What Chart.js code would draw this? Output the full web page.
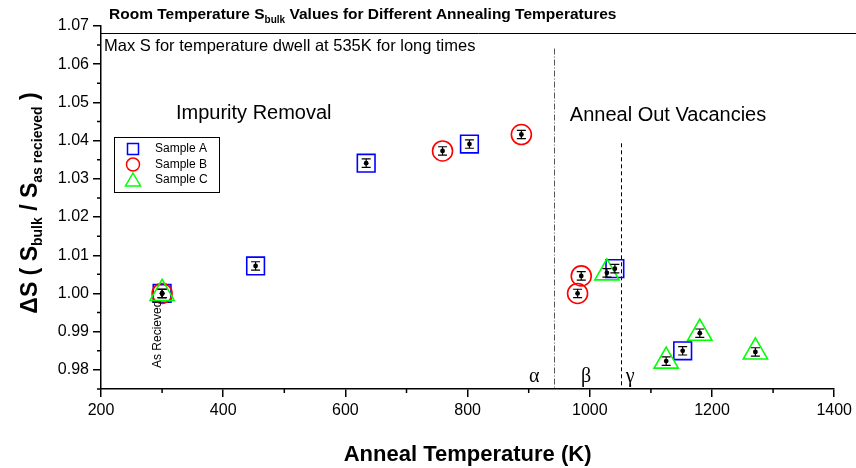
<!DOCTYPE html>
<html>
<head>
<meta charset="utf-8">
<script src="https://cdn.jsdelivr.net/npm/chart.js@4.4.1/dist/chart.umd.min.js"></script>
<style>
  html, body { margin: 0; padding: 0; background: #fff; }
  canvas { display: block; }
</style>
</head>
<body>
<canvas id="annealChart" width="856" height="468"></canvas>
<script>
// anneal temperature (K) and S relative to the as-received value, per sample
const tempA = [300, 453, 634, 803, 1041, 1152];
const sA    = [1.000, 1.0072, 1.0341, 1.0391, 1.0065, 0.9850];
const errA  = [0.0011, 0.0011, 0.0011, 0.0011, 0.0011, 0.0011];

const tempB = [300, 759, 888, 980, 986];
const sB    = [1.000, 1.0373, 1.0416, 1.0000, 1.0046];
const errB  = [0.0011, 0.0011, 0.0011, 0.0011, 0.0011];

const tempC = [300, 1028, 1125, 1180, 1271];
const sC    = [1.000, 1.0054, 0.9823, 0.9896, 0.9847];
const errC  = [0.0011, 0.0011, 0.0011, 0.0011, 0.0011];

const xTicks = [200, 400, 600, 800, 1000, 1200, 1400];
const yTicks = [0.98, 0.99, 1.00, 1.01, 1.02, 1.03, 1.04, 1.05, 1.06, 1.07];
const xMinor = [300, 500, 700, 900, 1100, 1300];
const yMinor = [0.975, 0.985, 0.995, 1.005, 1.015, 1.025, 1.035, 1.045, 1.055, 1.065];

// saturation level and the alpha / beta / gamma region boundaries
const maxS = 1.0682;
const phaseBounds = [942, 1051];
const phaseTops = [1.0641, 1.0393];
const phaseNames = ['α', 'β', 'γ'];
const phaseAt = [909, 994, 1066];

const SANS = 'Arial, "Liberation Sans", sans-serif';

function pts(xs, ys) {
  return xs.map((x, i) => ({ x: x, y: ys[i] }));
}

// draw a run of text pieces, each with its own size and vertical shift
function richText(ctx, parts, x, y, align) {
  let w = 0;
  parts.forEach(p => { ctx.font = p.font; w += ctx.measureText(p.t).width; });
  let cx = align === 'center' ? x - w / 2 : x;
  ctx.textAlign = 'left';
  ctx.textBaseline = 'alphabetic';
  parts.forEach(p => {
    ctx.font = p.font;
    ctx.fillText(p.t, cx, y + (p.dy || 0));
    cx += ctx.measureText(p.t).width;
  });
}

const decorations = {
  id: 'decorations',
  beforeDatasetsDraw(chart) {
    const { ctx, chartArea, scales: { x, y } } = chart;
    ctx.save();
    // max S line runs out past the plot edge
    const py = Math.round(y.getPixelForValue(maxS)) + 0.5;
    ctx.strokeStyle = '#000';
    ctx.lineWidth = 1;
    ctx.beginPath();
    ctx.moveTo(chartArea.left, py);
    ctx.lineTo(chart.width, py);
    ctx.stroke();

    // region boundaries
    const dashes = [[6, 2, 1, 2], [4, 3]];
    const colors = ['#555', '#000'];
    phaseBounds.forEach((b, i) => {
      const px = Math.round(x.getPixelForValue(b)) + 0.5;
      ctx.strokeStyle = colors[i];
      ctx.setLineDash(dashes[i]);
      ctx.beginPath();
      ctx.moveTo(px, y.getPixelForValue(phaseTops[i]));
      ctx.lineTo(px, chartArea.bottom);
      ctx.stroke();
    });
    ctx.restore();
  },
  afterDatasetsDraw(chart) {
    const { ctx, scales: { x, y } } = chart;
    ctx.save();
    ctx.strokeStyle = '#000';
    ctx.fillStyle = '#000';
    ctx.lineWidth = 1.2;
    const bars = (xs, ys, es) => {
      xs.forEach((t, i) => {
        const px = x.getPixelForValue(t);
        const p0 = y.getPixelForValue(ys[i]);
        const pt = y.getPixelForValue(ys[i] + es[i]);
        const pb = y.getPixelForValue(ys[i] - es[i]);
        ctx.beginPath();
        ctx.moveTo(px, pt); ctx.lineTo(px, pb);
        ctx.moveTo(px - 4.5, pt); ctx.lineTo(px + 4.5, pt);
        ctx.moveTo(px - 4.5, pb); ctx.lineTo(px + 4.5, pb);
        ctx.stroke();
        ctx.beginPath();
        ctx.arc(px, p0, 2.4, 0, Math.PI * 2);
        ctx.fill();
      });
    };
    bars(tempA, sA, errA);
    bars(tempB, sB, errB);
    bars(tempC, sC, errC);
    ctx.restore();
  },
  afterDraw(chart) {
    const { ctx, chartArea, scales: { x, y } } = chart;
    ctx.save();
    ctx.fillStyle = '#000';
    ctx.strokeStyle = '#000';

    // minor ticks
    ctx.lineWidth = 1.5;
    ctx.beginPath();
    xMinor.forEach(v => {
      const px = x.getPixelForValue(v);
      ctx.moveTo(px, chartArea.bottom);
      ctx.lineTo(px, chartArea.bottom + 4);
    });
    yMinor.forEach(v => {
      const py = y.getPixelForValue(v);
      ctx.moveTo(chartArea.left - 4, py);
      ctx.lineTo(chartArea.left, py);
    });
    ctx.stroke();

    // title
    richText(ctx, [
      { t: 'Room Temperature S', font: 'bold 15.5px ' + SANS },
      { t: 'bulk', font: 'bold 10px ' + SANS, dy: 4 },
      { t: ' Values for Different Annealing Temperatures', font: 'bold 15.5px ' + SANS }
    ], 109, 19, 'left');

    // x axis title
    richText(ctx, [{ t: 'Anneal Temperature (K)', font: 'bold 22px ' + SANS }],
      (chartArea.left + chartArea.right) / 2, 461, 'center');

    // y axis title
    ctx.save();
    ctx.translate(37, 203);
    ctx.rotate(-Math.PI / 2);
    richText(ctx, [
      { t: 'ΔS ( S', font: 'bold 23px ' + SANS },
      { t: 'bulk', font: 'bold 14px ' + SANS, dy: 5 },
      { t: ' / S', font: 'bold 23px ' + SANS },
      { t: 'as recieved', font: 'bold 14px ' + SANS, dy: 5 },
      { t: ' )', font: 'bold 23px ' + SANS }
    ], 0, 0, 'center');
    ctx.restore();

    // notes inside the plot
    ctx.textBaseline = 'middle';
    ctx.textAlign = 'left';
    ctx.font = '16.5px ' + SANS;
    ctx.fillText('Max S for temperature dwell at 535K for long times', chartArea.left + 3, y.getPixelForValue(1.0647));
    ctx.textAlign = 'center';
    ctx.font = '20px ' + SANS;
    ctx.fillText('Impurity Removal', x.getPixelForValue(450), y.getPixelForValue(1.0472));
    ctx.fillText('Anneal Out Vacancies', x.getPixelForValue(1128), y.getPixelForValue(1.0467));

    ctx.font = '20px "Liberation Serif", "Times New Roman", serif';
    ctx.textBaseline = 'alphabetic';
    phaseNames.forEach((n, i) => {
      ctx.fillText(n, x.getPixelForValue(phaseAt[i]), chartArea.bottom - 7);
    });

    ctx.save();
    ctx.translate(x.getPixelForValue(293), y.getPixelForValue(0.9805));
    ctx.rotate(-Math.PI / 2);
    ctx.font = '12px ' + SANS;
    ctx.textAlign = 'left';
    ctx.textBaseline = 'middle';
    ctx.fillText('As Recieved', 0, 0);
    ctx.restore();

    // legend box
    const lx = chartArea.left + 13, ly = 137;
    ctx.lineWidth = 1;
    ctx.strokeRect(lx + 0.5, ly + 0.5, 105, 55);
    const rows = [
      { name: 'Sample A', color: '#0000ff', shape: 'rect' },
      { name: 'Sample B', color: '#ff0000', shape: 'circle' },
      { name: 'Sample C', color: '#00ff00', shape: 'triangle' }
    ];
    ctx.font = '12px ' + SANS;
    ctx.textAlign = 'left';
    ctx.textBaseline = 'middle';
    rows.forEach((r, i) => {
      const cy = ly + 12 + i * 15.5;
      const cx = lx + 19;
      ctx.strokeStyle = r.color;
      ctx.lineWidth = 1.5;
      ctx.beginPath();
      if (r.shape === 'rect') {
        ctx.rect(cx - 5.5, cy - 5.5, 11, 11);
      } else if (r.shape === 'circle') {
        ctx.arc(cx, cy, 6.5, 0, Math.PI * 2);
      } else {
        ctx.moveTo(cx, cy - 7);
        ctx.lineTo(cx + 7.5, cy + 6);
        ctx.lineTo(cx - 7.5, cy + 6);
        ctx.closePath();
      }
      ctx.stroke();
      ctx.fillStyle = '#000';
      ctx.fillText(r.name, lx + 41, cy);
    });
    ctx.restore();
  }
};

const markerSet = (label, xs, ys, style, radius, color, order) => ({
  label: label,
  data: pts(xs, ys),
  pointStyle: style,
  pointRadius: radius,
  pointHoverRadius: radius,
  pointBorderColor: color,
  pointBackgroundColor: 'rgba(0,0,0,0)',
  pointBorderWidth: 1.6,
  borderColor: color,
  showLine: false,
  order: order
});

new Chart(document.getElementById('annealChart'), {
  type: 'scatter',
  data: {
    datasets: [
      markerSet('Sample A', tempA, sA, 'rect', 12.5, '#0000ff', 3),
      markerSet('Sample B', tempB, sB, 'circle', 10, '#ff0000', 2),
      markerSet('Sample C', tempC, sC, 'triangle', 14, '#00ff00', 1)
    ]
  },
  options: {
    responsive: false,
    animation: false,
    devicePixelRatio: 1,
    layout: { padding: { top: 26, right: 19, left: 0, bottom: 0 } },
    plugins: { legend: { display: false }, tooltip: { enabled: false } },
    scales: {
      x: {
        type: 'linear',
        min: 200,
        max: 1400,
        afterBuildTicks: s => { s.ticks = xTicks.map(v => ({ value: v })); },
        afterFit: s => { s.height = 79; },
        border: { color: '#000', width: 1.5 },
        grid: { drawOnChartArea: false, tickLength: 8, color: '#000', lineWidth: 1.5 },
        ticks: {
          color: '#000',
          font: { family: SANS, size: 16 },
          padding: 4,
          maxRotation: 0,
          callback: v => String(v)
        }
      },
      y: {
        type: 'linear',
        min: 0.975,
        max: 1.07,
        afterBuildTicks: s => { s.ticks = yTicks.map(v => ({ value: v })); },
        afterFit: s => { s.width = 101; },
        border: { color: '#000', width: 1.5 },
        grid: { drawOnChartArea: false, tickLength: 8, color: '#000', lineWidth: 1.5 },
        ticks: {
          color: '#000',
          font: { family: SANS, size: 16 },
          padding: 4,
          callback: v => v.toFixed(2)
        }
      }
    }
  },
  plugins: [decorations]
});
</script>
</body>
</html>
